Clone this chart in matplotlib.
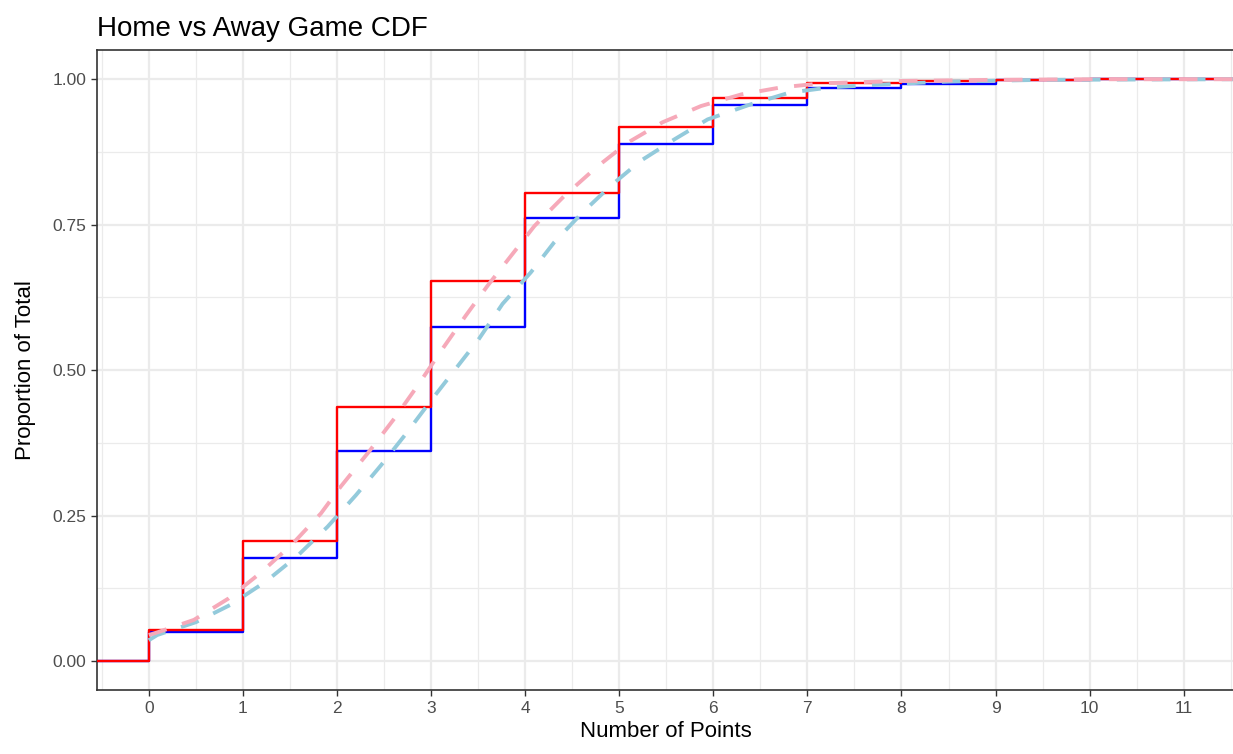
import matplotlib
matplotlib.use('Agg')
import matplotlib.pyplot as plt
import numpy as np

plt.rcParams['font.family'] = ['Liberation Sans', 'DejaVu Sans']

# empirical CDF of points per game
points = [0, 1, 2, 3, 4, 5, 6, 7, 8, 9, 10]
home_cdf = [0.053, 0.206, 0.437, 0.653, 0.805, 0.918, 0.967, 0.993, 0.997, 0.999, 1.0]
away_cdf = [0.051, 0.178, 0.362, 0.574, 0.761, 0.888, 0.956, 0.985, 0.992, 0.998, 1.0]

# fitted curves
home_fit_x = [0, 0.1, 0.48, 0.85, 1.19, 1.53, 1.83, 2.04, 2.34, 2.61, 2.86, 3.11, 3.37,
              3.60, 4.10, 4.42, 4.76, 5.09, 5.46, 5.87, 6.30, 6.72, 7.15, 7.57, 8, 9, 10, 11.55]
home_fit_y = [0.045, 0.050, 0.071, 0.108, 0.152, 0.202, 0.254, 0.300, 0.360, 0.417, 0.474,
              0.534, 0.594, 0.645, 0.748, 0.800, 0.849, 0.891, 0.926, 0.954, 0.974, 0.986,
              0.993, 0.995, 0.997, 0.999, 1.0, 1.0]
away_fit_x = [0, 0.09, 0.5, 0.87, 1.245, 1.58, 1.9, 2.20, 2.47, 2.72, 3.0, 3.25, 3.51, 3.76,
              4.06, 4.31, 4.61, 4.91, 5.23, 5.59, 5.94, 6.40, 6.81, 7.24, 7.79, 8.5, 9.5, 11.55]
away_fit_y = [0.036, 0.045, 0.067, 0.097, 0.137, 0.181, 0.231, 0.285, 0.337, 0.388, 0.448,
              0.500, 0.554, 0.614, 0.668, 0.720, 0.771, 0.817, 0.860, 0.897, 0.931, 0.957,
              0.977, 0.986, 0.991, 0.996, 0.999, 1.0]

x_ticks = list(range(0, 12))
y_ticks = [0, 0.25, 0.5, 0.75, 1.0]

xlim = (-0.55, 11.55)
ylim = (-0.05, 1.05)

fig = plt.figure(figsize=(12.33, 7.54), dpi=100)
ax = fig.add_axes([0.0787, 0.0845, 0.9233, 0.849])

# grid like theme_bw
for v in np.arange(-0.5, 12, 0.5):
    ax.axvline(v, color='#EBEBEB', lw=1.6 if v == int(v) else 0.9, zorder=0)
for v in np.arange(-0.125, 1.1, 0.125):
    ax.axhline(v, color='#EBEBEB', lw=1.6 if (v * 4) == int(v * 4) else 0.9, zorder=0)

# step functions padded out to the panel edges
def pad(xs, ys):
    return [xlim[0]] + xs + [xlim[1]], [0] + ys + [ys[-1]]

ax_x, ax_y = pad(points, away_cdf)
hx, hy = pad(points, home_cdf)
ax.step(ax_x, ax_y, where='post', color='blue', lw=1.7, zorder=2)
ax.step(hx, hy, where='post', color='red', lw=1.7, zorder=3)

ax.plot(away_fit_x, away_fit_y, color='#93CADB', lw=2.8, dashes=(4.8, 4.2), zorder=4)
ax.plot(home_fit_x, home_fit_y, color='#F6A9B9', lw=2.8, dashes=(4.8, 4.2), zorder=5)

ax.set_xlim(xlim)
ax.set_ylim(ylim)
ax.set_xticks(x_ticks)
ax.set_yticks(y_ticks)
ax.set_yticklabels(['%.2f' % t for t in y_ticks])
ax.tick_params(colors='#333333', labelcolor='#4D4D4D', labelsize=12.5, length=4, width=1)
for s in ax.spines.values():
    s.set_color('#333333')
    s.set_linewidth(1.2)

ax.set_xlabel('Number of Points', fontsize=16, labelpad=4)
ax.set_ylabel('Proportion of Total', fontsize=16, labelpad=12)
ax.set_title('Home vs Away Game CDF', loc='left', fontsize=20, pad=10)

fig.savefig('out.png', dpi=100)
